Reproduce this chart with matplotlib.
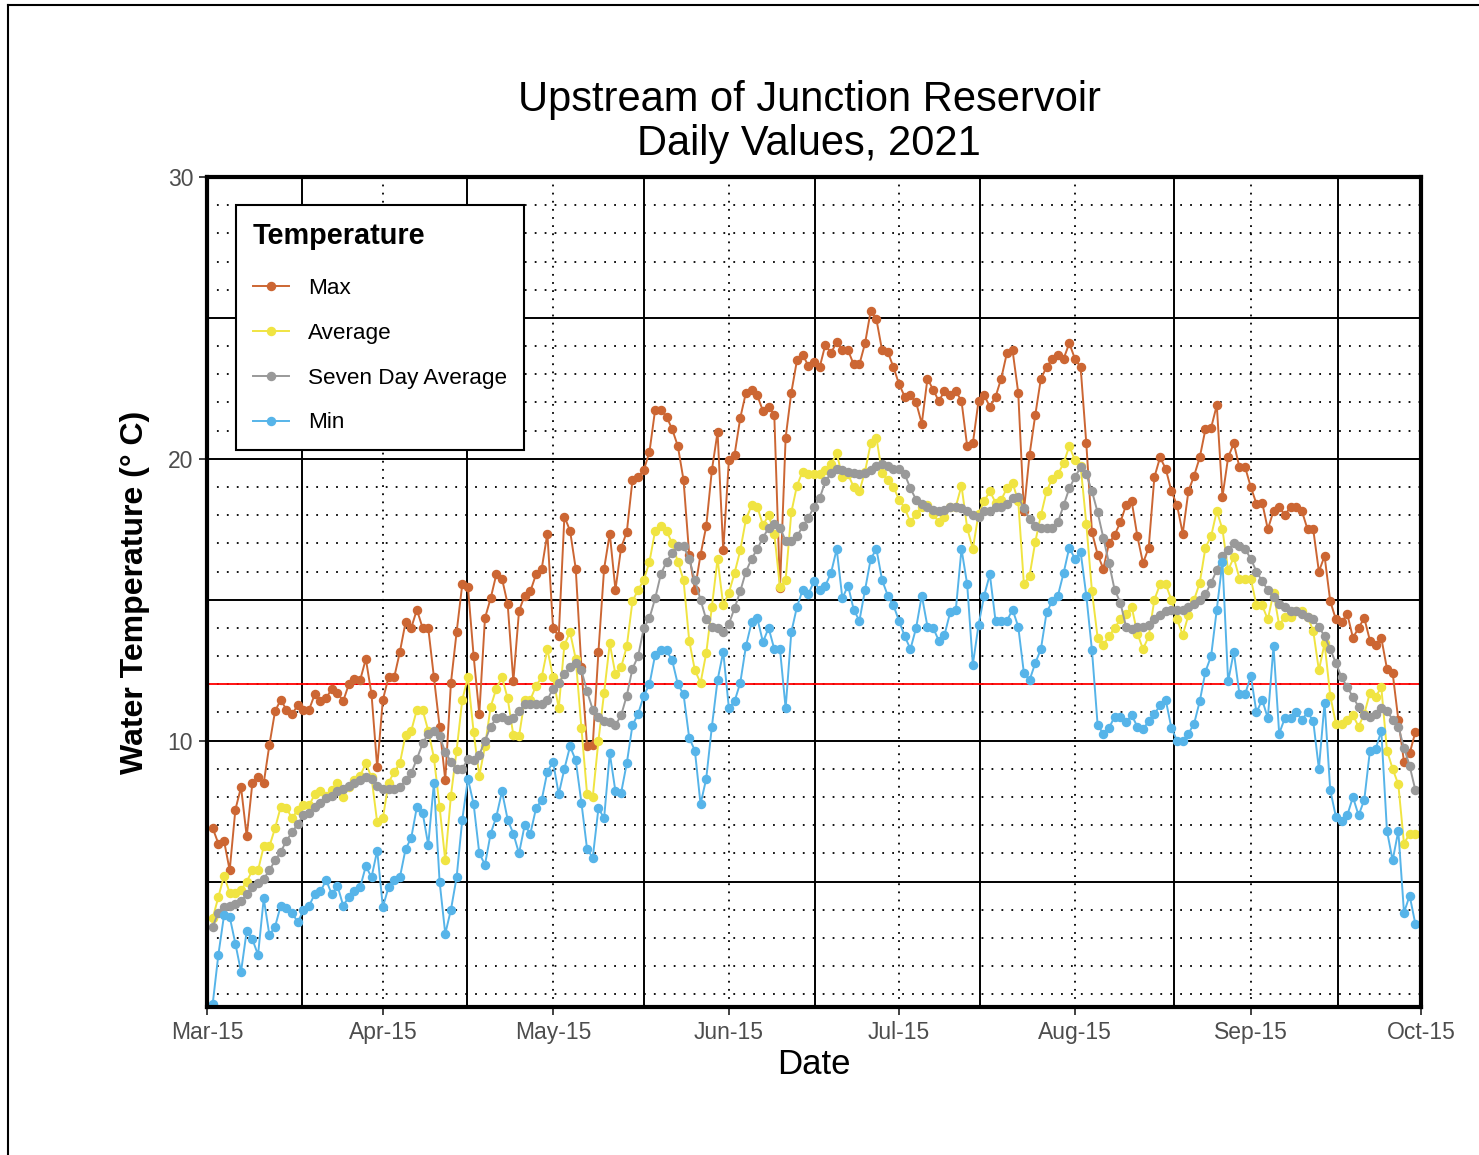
import matplotlib
matplotlib.use('Agg')
import matplotlib.pyplot as plt
from matplotlib.lines import Line2D
import pandas as pd

plt.rcParams['font.family'] = ['Liberation Sans', 'DejaVu Sans']

# daily values, Mar 16 - Oct 14 2021
dates = pd.date_range('2021-03-16', '2021-10-14', freq='D')

temp_max = [
    6.9, 6.35, 6.45, 5.4, 7.55, 8.35, 6.6, 8.5, 8.7, 8.5,
    9.85, 11.05, 11.45, 11.1, 10.95, 11.25, 11.1, 11.1, 11.65, 11.4,
    11.5, 11.85, 11.7, 11.4, 12.0, 12.2, 12.15, 12.9, 11.65, 9.05,
    11.45, 12.25, 12.25, 13.15, 14.2, 14.0, 14.65, 14.0, 14.0, 12.25,
    10.5, 8.6, 12.05, 13.85, 15.55, 15.45, 13.0, 10.95, 14.35, 15.05,
    15.9, 15.75, 14.85, 12.1, 14.6, 15.15, 15.3, 15.9, 16.1, 17.35,
    14.0, 13.7, 17.95, 17.45, 16.1, 12.6, 9.8, 9.85, 13.15, 16.1,
    17.35, 15.35, 16.85, 17.4, 19.25, 19.35, 19.6, 20.25, 21.75, 21.75,
    21.5, 21.05, 20.45, 19.25, 16.6, 15.35, 16.6, 17.6, 19.6, 20.95,
    16.75, 19.95, 20.15, 21.45, 22.35, 22.45, 22.25, 21.7, 21.85, 21.55,
    15.4, 20.75, 22.35, 23.5, 23.7, 23.3, 23.45, 23.25, 24.05, 23.75,
    24.15, 23.85, 23.85, 23.35, 23.35, 24.1, 25.25, 24.95, 23.85, 23.8,
    23.25, 22.65, 22.2, 22.25, 22.0, 21.25, 22.85, 22.45, 22.05, 22.4,
    22.25, 22.4, 22.05, 20.45, 20.55, 22.05, 22.25, 21.85, 22.2, 22.85,
    23.75, 23.85, 22.35, 18.15, 20.15, 21.55, 22.85, 23.25, 23.55, 23.7,
    23.55, 24.1, 23.55, 23.25, 20.55, 17.4, 16.6, 16.1, 17.0, 17.3,
    17.75, 18.35, 18.5, 17.25, 16.3, 16.85, 19.35, 20.05, 19.65, 18.85,
    18.35, 17.35, 18.85, 19.4, 20.05, 21.05, 21.1, 21.9, 18.65, 20.05,
    20.55, 19.7, 19.7, 19.0, 18.4, 18.45, 17.5, 18.15, 18.3, 18.0,
    18.3, 18.3, 18.15, 17.5, 17.5, 16.0, 16.55, 14.95, 14.3, 14.2,
    14.5, 13.65, 14.0, 14.35, 13.55, 13.4, 13.65, 12.55, 12.4, 10.75,
    9.25, 9.55, 10.3,
]

temp_avg = [
    3.7, 4.45, 5.2, 4.6, 4.6, 4.7, 5.0, 5.4, 5.4, 6.25,
    6.25, 6.9, 7.65, 7.6, 7.25, 7.55, 7.7, 7.7, 8.1, 8.2,
    8.05, 8.25, 8.5, 8.0, 8.35, 8.6, 8.75, 9.2, 8.7, 7.1,
    7.25, 8.5, 8.9, 9.2, 10.2, 10.35, 11.1, 11.1, 10.35, 9.4,
    7.65, 5.75, 8.05, 9.65, 11.45, 12.25, 10.3, 8.75, 9.8, 11.2,
    11.85, 12.25, 11.5, 10.2, 10.15, 11.45, 11.45, 11.95, 12.25, 13.25,
    12.25, 11.15, 13.4, 13.85, 12.9, 10.45, 8.1, 8.0, 10.0, 11.7,
    13.45, 12.35, 12.6, 13.35, 14.95, 15.35, 15.7, 16.35, 17.45, 17.6,
    17.45, 17.0, 16.35, 15.7, 13.55, 12.5, 12.05, 13.1, 14.75, 16.45,
    14.8, 15.25, 15.95, 16.75, 17.85, 18.35, 18.3, 17.65, 18.0, 17.35,
    15.45, 15.7, 18.1, 19.05, 19.55, 19.45, 19.45, 19.45, 19.6, 19.8,
    20.2, 19.35, 19.45, 19.0, 18.85, 19.55, 20.55, 20.75, 19.5, 19.25,
    19.0, 18.55, 18.25, 17.75, 18.05, 18.3, 18.35, 18.05, 17.75, 17.95,
    18.3, 18.3, 19.05, 17.55, 16.8, 18.05, 18.5, 18.85, 18.45, 18.55,
    18.95, 19.15, 18.5, 15.55, 15.85, 17.05, 18.0, 18.85, 19.3, 19.45,
    19.85, 20.45, 19.95, 19.75, 17.7, 15.3, 13.65, 13.4, 13.7, 14.0,
    14.3, 14.5, 14.75, 13.8, 13.25, 13.7, 15.0, 15.55, 15.55, 15.0,
    14.3, 13.75, 14.45, 15.0, 15.6, 16.85, 17.25, 18.15, 17.5, 16.05,
    16.5, 15.75, 15.75, 15.75, 14.8, 14.8, 14.3, 15.25, 14.1, 14.4,
    14.4, 14.6, 14.6, 14.4, 13.9, 12.5, 13.45, 11.6, 10.6, 10.6,
    10.75, 10.9, 10.5, 10.95, 11.7, 11.55, 11.9, 9.65, 9.0, 8.45,
    6.35, 6.7, 6.7,
]

temp_7day = [
    3.4, 3.9, 4.1, 4.15, 4.2, 4.3, 4.55, 4.8, 4.95, 5.1,
    5.4, 5.75, 6.05, 6.45, 6.75, 7.05, 7.35, 7.45, 7.65, 7.8,
    7.95, 8.05, 8.2, 8.3, 8.4, 8.5, 8.6, 8.7, 8.65, 8.4,
    8.3, 8.3, 8.3, 8.35, 8.6, 8.85, 9.35, 9.9, 10.25, 10.35,
    10.15, 9.6, 9.25, 9.0, 9.0, 9.35, 9.3, 9.5, 10.0, 10.5,
    10.8, 10.85, 10.75, 10.8, 11.05, 11.3, 11.3, 11.3, 11.3, 11.45,
    11.85, 12.05, 12.35, 12.6, 12.75, 12.5, 11.75, 11.1, 10.85, 10.7,
    10.65, 10.55, 10.9, 11.6, 12.55, 13.0, 14.0, 14.35, 15.05, 15.9,
    16.35, 16.65, 16.9, 16.9, 16.45, 15.7, 15.0, 14.3, 14.05, 14.0,
    13.85, 14.15, 14.7, 15.3, 16.0, 16.45, 16.8, 17.2, 17.55, 17.7,
    17.55, 17.1, 17.1, 17.25, 17.6, 17.9, 18.3, 18.6, 19.2, 19.5,
    19.65, 19.6, 19.55, 19.5, 19.45, 19.5, 19.6, 19.75, 19.8, 19.75,
    19.65, 19.65, 19.45, 18.95, 18.55, 18.4, 18.3, 18.2, 18.15, 18.2,
    18.3, 18.3, 18.25, 18.15, 18.0, 17.95, 18.15, 18.15, 18.3, 18.3,
    18.4, 18.6, 18.65, 18.25, 17.85, 17.6, 17.55, 17.55, 17.55, 17.75,
    18.35, 18.95, 19.35, 19.7, 19.45, 18.85, 18.1, 17.2, 16.3, 15.35,
    14.9, 14.05, 13.95, 14.05, 14.05, 14.1, 14.3, 14.45, 14.6, 14.65,
    14.65, 14.65, 14.75, 14.85, 15.0, 15.2, 15.6, 16.05, 16.55, 16.75,
    17.0, 16.9, 16.8, 16.45, 16.0, 15.65, 15.35, 15.1, 14.85, 14.75,
    14.6, 14.6, 14.5, 14.4, 14.3, 14.05, 13.7, 13.25, 12.75, 12.25,
    11.9, 11.55, 11.2, 10.9, 10.85, 10.95, 11.15, 11.05, 10.75, 10.5,
    9.75, 9.1, 8.25,
]

temp_min = [
    0.65, 2.4, 3.8, 3.75, 2.8, 1.8, 3.25, 2.95, 2.4, 4.4,
    3.1, 3.4, 4.15, 4.05, 3.9, 3.55, 4.0, 4.15, 4.55, 4.65,
    5.05, 4.55, 4.85, 4.15, 4.45, 4.65, 4.8, 5.55, 5.15, 6.1,
    4.1, 4.8, 5.05, 5.15, 6.15, 6.55, 7.65, 7.45, 6.3, 8.5,
    5.0, 3.15, 4.0, 5.15, 7.2, 8.65, 7.75, 6.0, 5.6, 6.7,
    7.3, 8.2, 7.2, 6.7, 6.0, 7.0, 6.7, 7.6, 7.9, 8.9,
    9.25, 8.1, 9.0, 9.8, 9.3, 7.8, 6.15, 5.85, 7.6, 7.25,
    9.55, 8.2, 8.15, 9.2, 10.55, 10.95, 11.6, 12.0, 13.05, 13.2,
    13.2, 12.85, 12.0, 11.65, 10.1, 9.65, 7.75, 8.65, 10.5, 12.15,
    13.15, 11.15, 11.4, 12.05, 13.35, 14.2, 14.35, 13.5, 14.0, 13.25,
    13.25, 11.15, 13.85, 14.75, 15.35, 15.2, 15.65, 15.35, 15.5, 15.95,
    16.8, 15.05, 15.5, 14.65, 14.25, 15.35, 16.45, 16.8, 15.7, 15.15,
    14.8, 14.25, 13.7, 13.25, 14.0, 15.15, 14.05, 14.0, 13.55, 13.75,
    14.55, 14.65, 16.8, 15.55, 12.7, 14.1, 15.15, 15.9, 14.25, 14.25,
    14.25, 14.65, 14.05, 12.4, 12.15, 12.75, 13.25, 14.55, 14.95, 15.15,
    15.95, 16.85, 16.45, 16.7, 15.15, 13.2, 10.55, 10.25, 10.45, 10.85,
    10.85, 10.65, 10.9, 10.5, 10.4, 10.7, 10.95, 11.25, 11.45, 10.45,
    10.0, 10.0, 10.25, 10.6, 11.4, 12.45, 13.0, 14.65, 16.35, 12.1,
    13.15, 11.65, 11.65, 12.3, 11.0, 11.45, 10.8, 13.35, 10.25, 10.8,
    10.8, 11.0, 10.75, 11.0, 10.7, 9.0, 11.35, 8.25, 7.3, 7.15,
    7.35, 8.0, 7.35, 7.9, 9.65, 9.7, 10.35, 6.8, 5.75, 6.8,
    3.9, 4.5, 3.5,
]

tick_dates = pd.to_datetime(['2021-03-15', '2021-04-15', '2021-05-15', '2021-06-15',
                             '2021-07-15', '2021-08-15', '2021-09-15', '2021-10-15'])
tick_labels = [d.strftime('%b-%d') for d in tick_dates]
# solid vertical grid lines, days after Mar 15
minor_days = [16.7, 45.9, 77.0, 107.1, 136.3, 170.4, 199.3]
threshold = 12

fig = plt.figure(figsize=(14.79, 11.55), dpi=100)
ax = fig.add_axes([207 / 1479, 1 - 1007 / 1155, (1421 - 207) / 1479, (1007 - 177) / 1155])

# grid
for v in range(1, 30):
    if v % 5:
        ax.axhline(v, color='black', lw=1.3, ls=(0, (1, 4.5)), zorder=1)
for v in [5, 10, 15, 20, 25]:
    ax.axhline(v, color='black', lw=1.4, zorder=1)
for d in tick_dates:
    ax.axvline(d, color='black', lw=1.3, ls=(0, (1, 3.5)), zorder=1)
start = pd.Timestamp('2021-03-15')
for m in minor_days:
    ax.axvline(start + pd.Timedelta(days=m), color='black', lw=1.4, zorder=1)
ax.axhline(threshold, color='red', lw=1.3, zorder=2)

series = [(temp_max, 'Max', '#CC6633'),
          (temp_avg, 'Average', '#F0E442'),
          (temp_7day, 'Seven Day Average', '#999999'),
          (temp_min, 'Min', '#56B4E9')]
for vals, lab, col in series:
    ax.plot(dates, vals, color=col, lw=1.4, marker='o', ms=5.8, label=lab, zorder=3)

ax.set_xlim(pd.Timestamp('2021-03-15'), pd.Timestamp('2021-10-15'))
ax.set_ylim(0.55, 30)
ax.set_xticks(tick_dates)
ax.set_xticklabels(tick_labels)
ax.set_yticks([10, 20, 30])
ax.tick_params(axis='both', direction='out', length=6, width=1.3, color='#333333',
               labelsize=16.5, labelcolor='#4D4D4D', pad=4)
for s in ax.spines.values():
    s.set_linewidth(3)
    s.set_color('black')
    s.set_zorder(5)

leg = ax.legend(title='Temperature', loc='upper left', bbox_to_anchor=(0.024, 0.966),
                borderaxespad=0, frameon=True, fancybox=False, edgecolor='black',
                framealpha=1, fontsize=16.2, title_fontproperties={'weight': 'bold', 'size': 20.8},
                alignment='left', handlelength=1.6, labelspacing=1.06, borderpad=0.75,
                handletextpad=0.85)
leg.get_frame().set_linewidth(1.5)
leg.set_zorder(6)
leg._legend_box.sep = 20

fig.text(809 / 1479, 1 - 122 / 1155, 'Upstream of Junction Reservoir\nDaily Values, 2021',
         ha='center', va='center', fontsize=30, linespacing=1.16)
fig.text(814 / 1479, 1 - 1065 / 1155, 'Date', ha='center', va='center', fontsize=25)
fig.text(135 / 1479, 1 - 592 / 1155, 'Water Temperature (° C)', ha='center', va='center',
         rotation=90, fontsize=23, fontweight='bold')

# outer frame of the picture
fig.add_artist(Line2D([8 / 1479, 1], [1 - 5 / 1155] * 2, color='black', lw=1.5,
                      transform=fig.transFigure))
fig.add_artist(Line2D([8 / 1479] * 2, [0, 1 - 5 / 1155], color='black', lw=1.5,
                      transform=fig.transFigure))

fig.savefig('out.png', dpi=100)
